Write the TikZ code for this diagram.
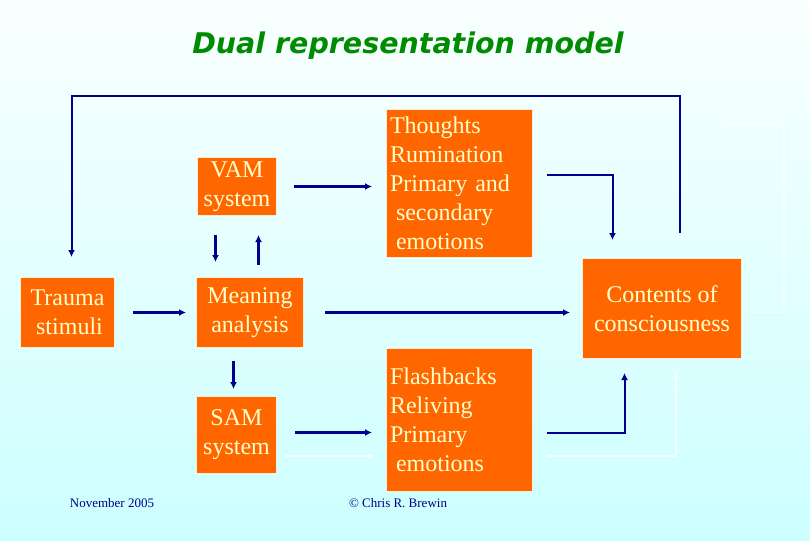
\documentclass[tikz,border=0pt]{standalone}
\usepackage{fontspec}
\setmainfont{Liberation Serif}
\newfontfamily\titlefont{DejaVu Sans}
\usetikzlibrary{arrows.meta}
\definecolor{boxorange}{RGB}{255,102,0}
\definecolor{boxtext}{RGB}{255,255,204}
\definecolor{boxedge}{RGB}{255,236,215}
\definecolor{navy}{RGB}{0,0,140}
\definecolor{titlegreen}{RGB}{0,140,0}
\definecolor{bgtop}{RGB}{250,255,255}
\definecolor{bgbot}{RGB}{204,255,255}
\tikzset{
  obox/.style={fill=boxorange, draw=boxedge, line width=1pt, text=boxtext,
    font=\fontsize{24}{29}\selectfont, inner sep=0pt, anchor=north west},
  cbox/.style={obox, align=center},
  lbox/.style={obox, align=left},
  arr/.style={draw=navy, line width=2.4pt, -{Latex[length=7pt,width=7pt]}},
  thinarr/.style={draw=navy, line width=2pt, -{Latex[length=7pt,width=7pt]}},
  shadow/.style={draw=white, line width=2pt, opacity=0.75, -{Latex[length=5pt,width=5pt]}},
  shadowline/.style={draw=white, line width=1.5pt, opacity=0.6},
  foot/.style={text=navy, font=\fontsize{13}{15}\selectfont}
}
\begin{document}
\begin{tikzpicture}[x=1pt,y=-1pt]
\shade[top color=bgtop, bottom color=bgbot] (0,0) rectangle (810,540);
\useasboundingbox (0,0) rectangle (810,540);

\node[text=titlegreen, font=\titlefont\bfseries\itshape\fontsize{28.5}{32}\selectfont] (title) at (408,46) {Dual representation model};

% boxes
\node[cbox, minimum width=79pt, minimum height=58pt] (vam) at (197,157) {VAM\\system};
\node[lbox, minimum width=146pt, minimum height=148pt, text width=139pt] (thoughts) at (386,109)
  {Thoughts\\Rumination\\Primary and\\\hspace*{6pt}secondary\\\hspace*{6pt}emotions};
\node[cbox, minimum width=94pt, minimum height=70pt] (trauma) at (20,277) {Trauma\\\hspace*{4pt}stimuli};
\node[cbox, minimum width=107pt, minimum height=70pt] (meaning) at (196,277) {Meaning\\analysis};
\node[cbox, minimum width=159pt, minimum height=100pt] (contents) at (582,258) {Contents of\\consciousness};
\node[cbox, minimum width=80pt, minimum height=77pt] (sam) at (196,396) {SAM\\system};
\node[lbox, minimum width=146pt, minimum height=143pt, text width=139pt] (flash) at (386,348)
  {Flashbacks\\Reliving\\Primary\\\hspace*{6pt}emotions};

\coordinate (loopy) at (0,96);
\coordinate (shadowy) at (0,125);

% faint white shadows
\draw[shadow, shorten <=7pt, shorten >=12pt] ([yshift=-20.5pt]sam.east) -- ([yshift=-20.5pt]sam.east -| flash.west);
\draw[shadow, shorten <=14pt, shorten >=14pt] ([yshift=-35.5pt]flash.east) -| ([xshift=13.5pt]contents.south);
\draw[shadowline, shorten <=9pt] (contents.east |- meaning.east) -- ++(42,0) |- ([xshift=60pt]contents.north |- shadowy);

% navy connectors
\draw[arr, shorten <=18pt, shorten >=10pt] (trauma.east |- meaning.east) -- (meaning.west);
\draw[arr, shorten <=21pt, shorten >=12pt] (meaning.east) -- (meaning.east -| contents.west);
\draw[arr, shorten <=17pt, shorten >=14pt] (vam.east) -- (vam.east -| thoughts.west);
\draw[arr, shorten <=19pt, shorten >=15pt] ([xshift=-21.5pt]vam.south) -- ([xshift=-21.5pt]vam.south |- meaning.north);
\draw[arr, shorten <=12pt, shorten >=19pt] ([xshift=21.5pt]vam.south |- meaning.north) -- ([xshift=21.5pt]vam.south);
\draw[arr, shorten <=13pt, shorten >=7pt] ([xshift=-16.5pt]meaning.south) -- ([xshift=-16.5pt]meaning.south |- sam.north);
\draw[arr, shorten <=18pt, shorten >=14pt] ([yshift=2.5pt]sam.east) -- ([yshift=2.5pt]sam.east -| flash.west);
\draw[thinarr, shorten <=14pt, shorten >=18pt] ([yshift=9pt]thoughts.east) -| ([xshift=-49.5pt]contents.north);
\draw[thinarr, shorten <=14pt, shorten >=14pt] ([yshift=-12.5pt]flash.east) -| ([xshift=-37.5pt]contents.south);
\draw[thinarr, shorten <=25pt, shorten >=20pt] ([xshift=17.5pt]contents.north) -- ([xshift=17.5pt]contents.north |- loopy) -| ([xshift=4pt]trauma.north);

% footers
\node[foot] (date) at (112,503) {November 2005};
\node[foot] (copy) at (398,503) {© Chris R. Brewin};
\end{tikzpicture}
\end{document}
